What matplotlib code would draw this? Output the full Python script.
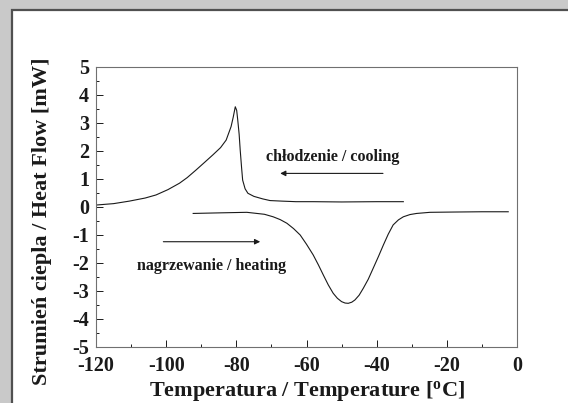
import matplotlib.pyplot as plt
from matplotlib.patches import Rectangle

# cooling run
cool_t = [-120, -115, -110.5, -106, -102.9, -99.5, -96.2, -94, -91.5, -89, -86.7,
          -84.5, -82.9, -81.5, -80.9, -80.3, -79.9, -79.6, -79.2, -78.9, -78.5,
          -78.2, -77.5, -76.7, -75, -72.5, -70.4, -67, -63, -58, -50, -40, -32.4]
cool_hf = [0.07, 0.12, 0.21, 0.32, 0.43, 0.62, 0.85, 1.05, 1.32, 1.6, 1.86,
           2.12, 2.39, 2.87, 3.2, 3.58, 3.45, 3.11, 2.6, 2.04, 1.4,
           0.96, 0.65, 0.49, 0.38, 0.29, 0.23, 0.21, 0.19, 0.19, 0.18, 0.19, 0.19]

# heating run
heat_t = [-92.3, -85, -77, -72, -69.5, -67.5, -65.6, -63.7, -61.8, -60, -58.1,
          -56.6, -55.2, -53.8, -52.4, -51.2, -50, -49, -48.1, -47.1, -46.2,
          -45, -43.8, -42.4, -41, -39.5, -38.1, -36.7, -35.3, -33.8, -32.4,
          -30.5, -28.6, -24.8, -18, -10, -2.5]
heat_hf = [-0.23, -0.21, -0.19, -0.26, -0.35, -0.45, -0.58, -0.77, -1.0, -1.33, -1.71,
           -2.07, -2.43, -2.78, -3.08, -3.26, -3.38, -3.43, -3.44, -3.40, -3.32,
           -3.15, -2.90, -2.58, -2.19, -1.77, -1.36, -0.97, -0.64, -0.46, -0.35,
           -0.27, -0.23, -0.19, -0.18, -0.17, -0.17]

x_ticks = [-120, -100, -80, -60, -40, -20, 0]
y_ticks = [-5, -4, -3, -2, -1, 0, 1, 2, 3, 4, 5]

plt.rcParams['font.family'] = ['Liberation Serif', 'DejaVu Serif']
plt.rcParams['font.weight'] = 'bold'
plt.rcParams['axes.unicode_minus'] = False

fig = plt.figure(figsize=(5.68, 4.03), dpi=100, facecolor='#c9c9c9')

# white panel with a dark frame on left/top
fig.patches.append(Rectangle((12 / 568, -0.5), 1.5, 0.5 + 1 - 10 / 403,
                             transform=fig.transFigure, facecolor='white',
                             edgecolor='#505050', linewidth=1.6, zorder=-5))

ax = fig.add_axes([96 / 568, 56 / 403, 421 / 568, 280 / 403])
ax.set_facecolor('white')

ax.plot(cool_t, cool_hf, color='#1a1a1a', lw=0.8)
ax.plot(heat_t, heat_hf, color='#1a1a1a', lw=0.8)

ax.annotate('', xy=(-67.5, 1.2), xytext=(-38.2, 1.2),
            arrowprops=dict(arrowstyle='-|>', color='#1a1a1a', lw=0.8,
                            mutation_scale=8, shrinkA=0, shrinkB=0))
ax.annotate('', xy=(-73.2, -1.24), xytext=(-100.8, -1.24),
            arrowprops=dict(arrowstyle='-|>', color='#1a1a1a', lw=0.8,
                            mutation_scale=8, shrinkA=0, shrinkB=0))
ax.text(-52.6, 1.8, 'chłodzenie / cooling', fontsize=11.5, fontweight='bold',
        ha='center', va='center', color='#1a1a1a')
ax.text(-87, -2.1, 'nagrzewanie / heating', fontsize=11.5, fontweight='bold',
        ha='center', va='center', color='#1a1a1a')

ax.set_xlim(-120, 0)
ax.set_ylim(-5, 5)
ax.set_xticks(x_ticks)
ax.set_yticks(y_ticks)
ax.set_xticks(range(-110, 0, 20), minor=True)
ax.set_yticks([v + 0.5 for v in y_ticks[:-1]], minor=True)
ax.tick_params(which='both', direction='in', top=False, right=False,
               labelsize=14.5, colors='#1a1a1a', width=0.7)
ax.tick_params(which='major', length=5, pad=5)
ax.tick_params(which='minor', length=2.5)
ax.tick_params(axis='x', which='major', pad=6.5)
for lab in ax.get_xticklabels() + ax.get_yticklabels():
    lab.set_fontweight('bold')
for sp in ax.spines.values():
    sp.set_color('#707070')
    sp.set_linewidth(0.8)

ax.set_xlabel('Temperatura / Temperature [$\\mathregular{^o}$C]', fontsize=16,
              fontweight='bold', color='#1a1a1a')
ax.set_ylabel('Strumień ciepla / Heat Flow [mW]', fontsize=16,
              fontweight='bold', color='#1a1a1a')
ax.xaxis.set_label_coords(0.5, -0.113)
ax.yaxis.set_label_coords(-0.105, 0.45)

fig.savefig('out.png', dpi=100, facecolor=fig.get_facecolor())
